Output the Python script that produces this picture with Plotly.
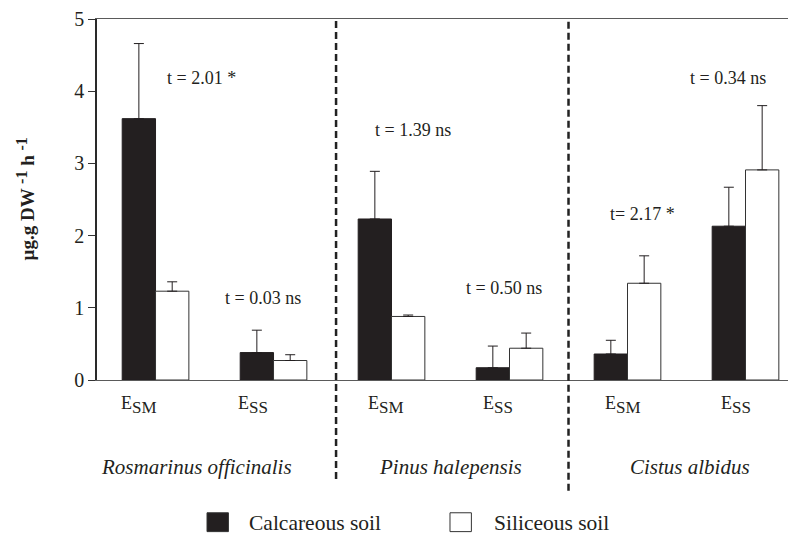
import plotly.graph_objects as go

# ---- data ----
positions = [0, 1, 2, 3, 4, 5]
calc_mean = [3.62, 0.38, 2.23, 0.17, 0.36, 2.13]
calc_err = [1.04, 0.31, 0.66, 0.30, 0.19, 0.54]
sil_mean = [1.23, 0.27, 0.88, 0.44, 1.34, 2.91]
sil_err = [0.13, 0.08, 0.02, 0.21, 0.38, 0.89]

cat_main = ["E", "E", "E", "E", "E", "E"]
cat_sub = ["SM", "SS", "SM", "SS", "SM", "SS"]
cat_label_x = [-0.14, 0.826, 1.956, 2.903, 3.962, 4.919]

species = ["Rosmarinus officinalis", "Pinus halepensis", "Cistus albidus"]
species_x = [0.343, 2.504, 4.533]
divider_x = [1.53, 3.5]
divider_bottom = [-0.2745, -0.3066]

t_texts = ["t = 2.01 *", "t = 0.03 ns", "t = 1.39 ns", "t = 0.50 ns", "t= 2.17 *", "t = 0.34 ns"]
t_x = [0.39, 0.907, 2.18, 2.956, 4.13, 4.85]
t_y = [4.18, 1.13, 3.46, 1.27, 2.30, 4.18]

y_ticks = [0, 1, 2, 3, 4, 5]

INK = "#231f20"
FONT = "Liberation Serif, Times New Roman, serif"

fig = go.Figure()
fig.add_trace(go.Bar(
    x=positions, y=calc_mean, name="Calcareous soil",
    marker=dict(color=INK, line=dict(color=INK, width=1)),
    error_y=dict(type="data", array=calc_err, arrayminus=[0] * 6, symmetric=False,
                 color=INK, thickness=1, width=5),
))
fig.add_trace(go.Bar(
    x=positions, y=sil_mean, name="Siliceous soil",
    marker=dict(color="white", line=dict(color="#333333", width=1)),
    error_y=dict(type="data", array=sil_err, arrayminus=[0] * 6, symmetric=False,
                 color=INK, thickness=1, width=5),
))

annotations = []
for txt, x, y in zip(t_texts, t_x, t_y):
    annotations.append(dict(x=x, y=y, xref="x", yref="y", text=txt, showarrow=False,
                            xanchor="center", yanchor="middle",
                            font=dict(family=FONT, size=18, color=INK)))
for m, s, x in zip(cat_main, cat_sub, cat_label_x):
    annotations.append(dict(x=x, y=-0.070, xref="x", yref="paper",
                            xanchor="center", yanchor="middle",
                            text=m + "<sub><span style='font-size:17px'>" + s + "</span></sub>",
                            showarrow=False, font=dict(family=FONT, size=18, color=INK)))
for sp, x in zip(species, species_x):
    annotations.append(dict(x=x, y=-0.2398, xref="x", yref="paper", text="<i>" + sp + "</i>",
                            xanchor="center", yanchor="middle",
                            showarrow=False, font=dict(family=FONT, size=21, color=INK)))
# y-axis title
annotations.append(dict(x=-0.103, y=0.5, xref="paper", yref="paper", textangle=-90,
                        xanchor="center", yanchor="middle",
                        text="<b>µg.g DW <sup><span style='font-size:16px'>-1</span></sup> h "
                             "<sup><span style='font-size:16px'>-1</span></sup></b>",
                        showarrow=False, font=dict(family=FONT, size=19, color=INK)))
# legend
legend_items = [("Calcareous soil", INK, 0.1574, 0.2146), ("Siliceous soil", "white", 0.505, 0.5657)]
shapes = []
for name, col, sx, tx in legend_items:
    shapes.append(dict(type="rect", xref="paper", yref="paper", x0=sx, x1=sx + 0.0306,
                       y0=-0.42, y1=-0.3678, fillcolor=col, line=dict(color="#333333", width=1)))
    annotations.append(dict(x=tx, y=-0.3956, xref="paper", yref="paper", text=name,
                            xanchor="left", yanchor="middle", showarrow=False,
                            font=dict(family=FONT, size=21.5, color=INK)))
for dx, yb in zip(divider_x, divider_bottom):
    shapes.append(dict(type="line", xref="x", yref="paper", x0=dx, x1=dx, y0=yb, y1=1,
                       line=dict(color="#222222", width=2.5, dash="7px,4px")))

fig.update_layout(
    width=788, height=530,
    margin=dict(l=89, r=0, t=8, b=158),
    plot_bgcolor="white", paper_bgcolor="white",
    barmode="group", bargap=0.435, bargroupgap=0,
    showlegend=False,
    annotations=annotations, shapes=shapes,
    font=dict(family=FONT, color=INK),
)
fig.update_xaxes(range=[-0.496, 5.428], showticklabels=False, ticks="", showgrid=False,
                 zeroline=False, showline=True, linecolor="#5a5a5a", linewidth=1.3, mirror=True)
fig.update_yaxes(range=[0, 5], tickvals=y_ticks, ticks="outside", ticklen=7, tickwidth=1.3,
                 tickcolor="#333333", showgrid=False, zeroline=False, showline=True,
                 ticklabeloverflow="allow",
                 linecolor="#2a2a2a", linewidth=1.5, tickfont=dict(family=FONT, size=20, color=INK))

fig.write_html("out.html")
